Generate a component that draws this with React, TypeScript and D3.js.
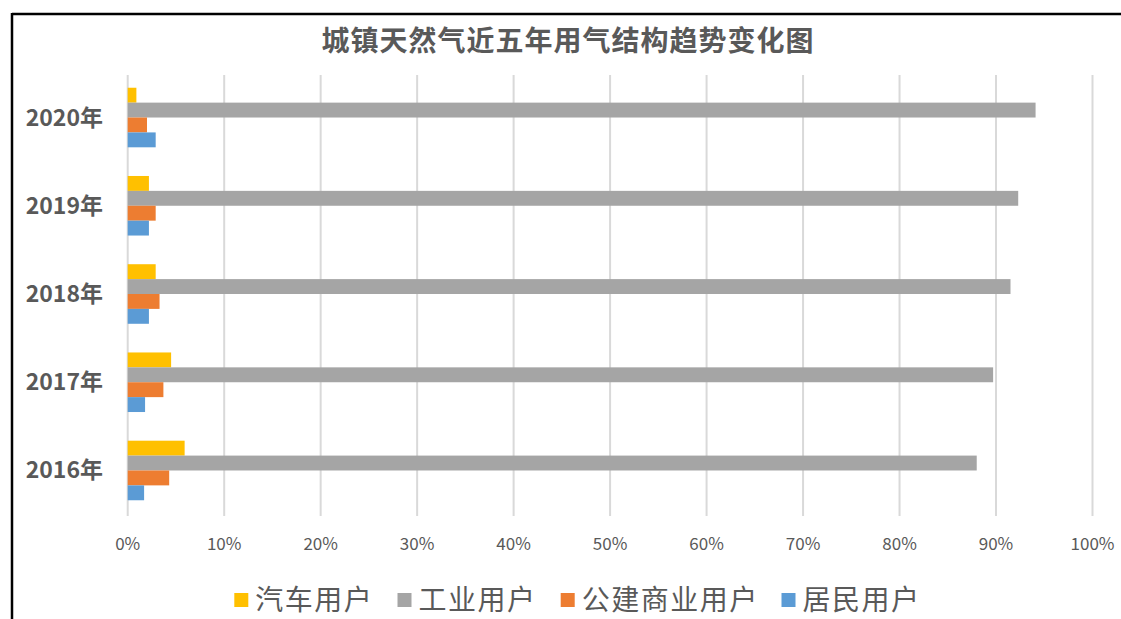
import React from "react";
import * as d3 from "d3";

const years = ["2020年", "2019年", "2018年", "2017年", "2016年"];
const seriesNames = ["汽车用户", "工业用户", "公建商业用户", "居民用户"];
const seriesColors = ["#FFC000", "#A5A5A5", "#ED7D31", "#5B9BD5"];
// values in %, per year (same order as years)
const carValues = [0.9, 2.2, 2.9, 4.5, 5.9];
const industryValues = [94.1, 92.3, 91.5, 89.7, 88.0];
const commercialValues = [2.0, 2.9, 3.3, 3.7, 4.3];
const residentValues = [2.9, 2.2, 2.2, 1.8, 1.7];
const xTicks = [0, 10, 20, 30, 40, 50, 60, 70, 80, 90, 100];
const title = "城镇天然气近五年用气结构趋势变化图";

const W = 1121;
const H = 619;
const FONT = "'Noto Sans CJK SC', 'Noto Sans', sans-serif";
const TXT = "#595959";

export default function App() {
  const allValues = [carValues, industryValues, commercialValues, residentValues];
  const x = d3.scaleLinear().domain([0, 100]).range([127.7, 1092.5]);
  const y = d3
    .scaleBand<string>()
    .domain(years)
    .range([73.4, 514.6])
    .paddingInner(0.325)
    .paddingOuter(0.1625);
  const inner = d3
    .scaleBand<string>()
    .domain(seriesNames)
    .range([0, y.bandwidth()]);

  // legend layout
  const legendFont = 28;
  const sq = 14;
  const legendItems: { x: number; w: number }[] = [];
  const widths = seriesNames.map((s) => s.length * (legendFont + 0.8));
  const gapSqText = 7;
  const itemGap = 27;
  const total =
    widths.reduce((a, b) => a + b, 0) +
    seriesNames.length * (sq + gapSqText) +
    itemGap * (seriesNames.length - 1);
  let cx = 576 - total / 2;
  widths.forEach((w) => {
    legendItems.push({ x: cx, w });
    cx += sq + gapSqText + w + itemGap;
  });

  return (
    <svg
      width={W}
      height={H}
      style={{ position: "absolute", left: 0, top: 0, background: "#fff" }}
      fontFamily={FONT}
    >
      <rect x={0} y={0} width={W} height={H} fill="#fff" />
      <line x1={12} y1={14} x2={W} y2={14} stroke="#000" strokeWidth={2.5} />
      <line x1={12} y1={13} x2={12} y2={H} stroke="#000" strokeWidth={2.5} />

      <text
        x={568}
        y={51}
        textAnchor="middle"
        fontSize={28}
        fontWeight="bold"
        fill={TXT}
        letterSpacing={1}
      >
        {title}
      </text>

      {xTicks.map((t) => (
        <line
          key={"g" + t}
          x1={x(t)}
          x2={x(t)}
          y1={75}
          y2={516}
          stroke="#D9D9D9"
          strokeWidth={2}
        />
      ))}

      {allValues.map((vals, si) =>
        years.map((yr, i) => (
          <rect
            key={seriesNames[si] + yr}
            x={x(0)}
            y={(y(yr) as number) + (inner(seriesNames[si]) as number)}
            width={x(vals[i]) - x(0)}
            height={inner.bandwidth()}
            fill={seriesColors[si]}
          />
        ))
      )}

      {years.map((yr) => (
        <text
          key={"yl" + yr}
          x={103}
          y={(y(yr) as number) + y.bandwidth() / 2 + 8}
          textAnchor="end"
          fontSize={23}
          fontWeight="bold"
          fill={TXT}
        >
          {yr}
        </text>
      ))}

      {xTicks.map((t) => (
        <text
          key={"xl" + t}
          x={x(t)}
          y={550}
          textAnchor="middle"
          fontSize={17}
          fill={TXT}
        >
          {t + "%"}
        </text>
      ))}

      {seriesNames.map((s, i) => (
        <g key={"lg" + s}>
          <rect
            x={legendItems[i].x}
            y={593}
            width={sq}
            height={sq}
            fill={seriesColors[i]}
          />
          <text
            x={legendItems[i].x + sq + gapSqText}
            y={610}
            fontSize={legendFont}
            fill={TXT}
            letterSpacing={1.5}
          >
            {s}
          </text>
        </g>
      ))}
    </svg>
  );
}
